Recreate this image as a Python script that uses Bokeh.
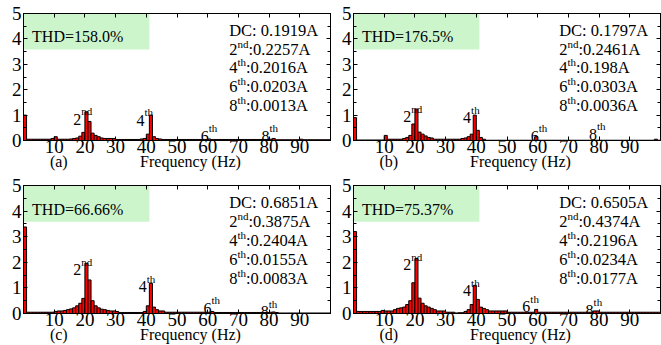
from bokeh.plotting import figure
from bokeh.models import FixedTicker, LinearAxis, Range1d, BoxAnnotation, ColumnDataSource
from bokeh.layouts import column, row
from bokeh.embed import file_html
from bokeh.resources import INLINE
from bokeh.core.properties import value

# ---------------- data ----------------
freqs = list(range(100))

amp_a = [1.00, 0.05, 0.05, 0.05, 0.05, 0.05, 0.05, 0.05, 0.05, 0.08,
         0.15, 0.05, 0.05, 0.05, 0.05, 0.06, 0.08, 0.10, 0.17, 0.32,
         1.13, 0.75, 0.29, 0.20, 0.15, 0.10, 0.08, 0.08, 0.08, 0.08,
         0.04, 0.04, 0.04, 0.04, 0.04, 0.04, 0.04, 0.04, 0.06, 0.08,
         0.25, 1.00, 0.15, 0.08, 0.06, 0.04, 0.04, 0.04, 0.04, 0.04,
         0.04, 0.04, 0.04, 0.04, 0.04, 0.04, 0.04, 0.04, 0.04, 0.04,
         0.06, 0.04, 0.04, 0.04, 0.04, 0.04, 0.04, 0.04, 0.04, 0.04,
         0.04, 0.04, 0.04, 0.04, 0.04, 0.04, 0.04, 0.04, 0.04, 0.04,
         0.05, 0.08, 0.03, 0.03, 0.03, 0.03, 0.03, 0.03, 0.03, 0.03,
         0.05, 0.03, 0.03, 0.03, 0.03, 0.03, 0.03, 0.03, 0.03, 0.03]

amp_b = [0.90, 0.02, 0.02, 0.02, 0.02, 0.02, 0.02, 0.02, 0.02, 0.02,
         0.20, 0.05, 0.05, 0.05, 0.05, 0.05, 0.08, 0.12, 0.20, 0.65,
         1.24, 0.33, 0.25, 0.18, 0.12, 0.10, 0.05, 0.05, 0.05, 0.05,
         0.05, 0.05, 0.05, 0.05, 0.05, 0.08, 0.10, 0.15, 0.25, 1.00,
         0.40, 0.12, 0.05, 0.01, 0.01, 0.01, 0.01, 0.01, 0.01, 0.01,
         0.01, 0.01, 0.01, 0.01, 0.01, 0.01, 0.01, 0.01, 0.01, 0.15,
         0.01, 0.01, 0.01, 0.01, 0.01, 0.01, 0.01, 0.01, 0.01, 0.01,
         0.01, 0.01, 0.01, 0.01, 0.01, 0.01, 0.01, 0.01, 0.01, 0.01,
         0.01, 0.01, 0.01, 0.01, 0.01, 0.01, 0.01, 0.01, 0.01, 0.01,
         0.01, 0.01, 0.01, 0.01, 0.01, 0.01, 0.01, 0.01, 0.05, 0.01]

amp_c = [3.38, 0.05, 0.05, 0.05, 0.05, 0.05, 0.05, 0.05, 0.05, 0.05,
         0.08, 0.10, 0.10, 0.12, 0.15, 0.18, 0.22, 0.30, 0.40, 0.59,
         1.96, 1.31, 0.50, 0.30, 0.22, 0.17, 0.15, 0.12, 0.10, 0.10,
         0.08, 0.04, 0.04, 0.04, 0.04, 0.04, 0.04, 0.04, 0.04, 0.08,
         0.30, 1.18, 0.25, 0.15, 0.10, 0.10, 0.05, 0.05, 0.05, 0.05,
         0.05, 0.05, 0.05, 0.05, 0.05, 0.05, 0.05, 0.05, 0.05, 0.05,
         0.05, 0.08, 0.04, 0.04, 0.04, 0.04, 0.04, 0.04, 0.04, 0.04,
         0.04, 0.04, 0.04, 0.04, 0.04, 0.04, 0.04, 0.04, 0.04, 0.04,
         0.05, 0.06, 0.04, 0.02, 0.02, 0.02, 0.02, 0.02, 0.02, 0.02,
         0.02, 0.02, 0.02, 0.02, 0.02, 0.02, 0.02, 0.02, 0.02, 0.02]

amp_d = [3.20, 0.08, 0.08, 0.08, 0.08, 0.08, 0.08, 0.08, 0.08, 0.12,
         0.10, 0.10, 0.10, 0.15, 0.20, 0.22, 0.25, 0.35, 0.50, 1.20,
         2.15, 0.60, 0.40, 0.30, 0.25, 0.20, 0.15, 0.10, 0.10, 0.10,
         0.05, 0.05, 0.05, 0.02, 0.03, 0.03, 0.08, 0.15, 0.35, 1.10,
         0.55, 0.25, 0.20, 0.15, 0.10, 0.10, 0.10, 0.10, 0.10, 0.10,
         0.05, 0.05, 0.05, 0.05, 0.05, 0.05, 0.05, 0.05, 0.05, 0.16,
         0.05, 0.05, 0.05, 0.05, 0.05, 0.05, 0.05, 0.05, 0.05, 0.05,
         0.05, 0.05, 0.05, 0.05, 0.05, 0.05, 0.05, 0.05, 0.10, 0.10,
         0.05, 0.05, 0.05, 0.05, 0.05, 0.05, 0.05, 0.05, 0.05, 0.05,
         0.05, 0.05, 0.05, 0.05, 0.05, 0.05, 0.05, 0.05, 0.05, 0.05]

panel_tags = ["(a)", "(b)", "(c)", "(d)"]
thd_values = ["158.0%", "176.5%", "66.66%", "75.37%"]
dc_values = ["0.1919A", "0.1797A", "0.6851A", "0.6505A"]
h2_values = ["0.2257A", "0.2461A", "0.3875A", "0.4374A"]
h4_values = ["0.2016A", "0.198A", "0.2404A", "0.2196A"]
h6_values = ["0.0203A", "0.0303A", "0.0155A", "0.0234A"]
h8_values = ["0.0013A", "0.0036A", "0.0083A", "0.0177A"]
harmonic_names = [("2", "nd"), ("4", "th"), ("6", "th"), ("8", "th")]
x_ticks = [10, 20, 30, 40, 50, 60, 70, 80, 90]
y_ticks = [0, 1, 2, 3, 4, 5]
y_minor = [0.5, 1.5, 2.5, 3.5, 4.5]
x_label = "Frequency (Hz)"

# ---------------- layout / style ----------------
FONT = "Liberation Serif"
LABEL_POS = [
    [(16.2, 0.83), (36.8, 0.80), (57.7, 0.17), (77.5, 0.17)],
    [(16.2, 0.93), (35.7, 0.90), (57.7, 0.17), (76.7, 0.24)],
    [(16.2, 1.70), (37.5, 1.04), (58.6, 0.20), (77.3, 0.06)],
    [(16.2, 1.90), (35.7, 0.89), (55.0, 0.26), (75.6, 0.13)],
]
SUP_W = {"nd": 11.0, "th": 8.6}
TAG_X = 11.5      # centre of "(a)" label, data units
XLAB_X = 54.4     # centre of "Frequency (Hz)" label, data units


def make_panel(i, amps, width, height, left_border, bottom_border):
    p = figure(width=width, height=height, x_range=Range1d(0, 100), y_range=Range1d(0, 5),
               output_backend="svg", toolbar_location=None,
               min_border_left=left_border, min_border_right=1, min_border_top=13,
               min_border_bottom=bottom_border,
               background_fill_color="white", border_fill_color="white")
    p.xgrid.visible = False
    p.ygrid.visible = False
    p.outline_line_color = "black"
    p.outline_line_width = 1

    src = ColumnDataSource(dict(x=[f + 0.5 for f in freqs], top=amps))
    p.vbar(x="x", top="top", bottom=0, width=1.0, source=src,
           fill_color="#ff0000", line_color="black", line_width=1)

    xa = p.xaxis[0]
    xa.ticker = FixedTicker(ticks=x_ticks)
    xa.major_label_text_font = FONT
    xa.major_label_text_font_size = "19px"
    xa.major_label_text_color = "black"
    xa.major_tick_in = 4
    xa.major_tick_out = 0
    xa.minor_tick_line_color = None
    xa.minor_tick_out = 0
    xa.major_label_standoff = -1
    xa.axis_line_color = "black"

    # second row under the axis: panel tag and axis title at their own x positions
    lab_ax = LinearAxis(ticker=FixedTicker(ticks=[TAG_X, XLAB_X]),
                        major_label_overrides={TAG_X: panel_tags[i], XLAB_X: x_label},
                        major_tick_line_color=None, minor_tick_line_color=None,
                        major_tick_in=0, major_tick_out=0, minor_tick_in=0, minor_tick_out=0,
                        axis_line_color=None, major_label_standoff=-3,
                        major_label_text_font=FONT, major_label_text_font_size="16px",
                        major_label_text_color="black")
    p.add_layout(lab_ax, "below")

    ya = p.yaxis[0]
    ya.ticker = FixedTicker(ticks=y_ticks, minor_ticks=y_minor)
    ya.major_label_text_font = FONT
    ya.major_label_text_font_size = "19px"
    ya.major_label_text_color = "black"
    ya.major_tick_in = 4
    ya.major_tick_out = 0
    ya.minor_tick_in = 3
    ya.minor_tick_out = 0
    ya.major_label_standoff = 2
    ya.axis_line_color = "black"

    top_ax = LinearAxis(ticker=FixedTicker(ticks=x_ticks), major_tick_in=4, major_tick_out=0,
                        minor_tick_line_color=None, minor_tick_out=0,
                        major_label_text_font_size="0px", major_label_text_color=None,
                        major_label_standoff=0, axis_line_color="black")
    p.add_layout(top_ax, "above")
    right_ax = LinearAxis(ticker=FixedTicker(ticks=y_ticks, minor_ticks=y_minor),
                          major_tick_in=4, major_tick_out=0, minor_tick_in=3, minor_tick_out=0,
                          major_label_text_font_size="0px", major_label_text_color=None,
                          major_label_standoff=0, axis_line_color="black")
    p.add_layout(right_ax, "right")

    # THD box
    p.add_layout(BoxAnnotation(left=0, right=41, bottom=3.58, top=5, fill_color="#ccf5cc",
                               fill_alpha=1.0, line_color=None, level="underlay"))
    p.text(x=[2.8], y=[4.08], text=["THD=" + thd_values[i]], text_font=value(FONT),
           text_font_size="16px", text_baseline="alphabetic", text_align="left", text_color="black")

    # harmonic labels over the bars
    pos = LABEL_POS[i]
    hx = [q[0] for q in pos]
    hy = [q[1] for q in pos]
    p.text(x=hx, y=hy, text=[h[0] for h in harmonic_names], text_font=value(FONT),
           text_font_size="16px", text_baseline="alphabetic", text_align="left", text_color="black")
    p.text(x=hx, y=hy, text=[h[1] for h in harmonic_names], text_font=value(FONT),
           text_font_size="11px", text_baseline="alphabetic", text_align="left", text_color="black",
           x_offset=8, y_offset=-8)

    # right-side annotation
    ax0 = 67.0
    ann_y = [4.34 - 0.74 * k for k in range(5)]
    p.text(x=[ax0], y=[ann_y[0]], text=["DC: " + dc_values[i]], text_font=value(FONT),
           text_font_size="16.5px", text_baseline="alphabetic", text_align="left", text_color="black")
    vals = [h2_values[i], h4_values[i], h6_values[i], h8_values[i]]
    for k, ((num, sup), v) in enumerate(zip(harmonic_names, vals)):
        yy = ann_y[k + 1]
        p.text(x=[ax0], y=[yy], text=[num], text_font=value(FONT), text_font_size="16.5px",
               text_baseline="alphabetic", text_align="left", text_color="black")
        p.text(x=[ax0], y=[yy], text=[sup], text_font=value(FONT), text_font_size="11px",
               text_baseline="alphabetic", text_align="left", text_color="black",
               x_offset=8.25, y_offset=-5.5)
        p.text(x=[ax0], y=[yy], text=[":" + v], text_font=value(FONT), text_font_size="16.5px",
               text_baseline="alphabetic", text_align="left", text_color="black",
               x_offset=8.25 + SUP_W[sup])
    return p


pa = make_panel(0, amp_a, 331, 172, 23, 31)
pb = make_panel(1, amp_b, 330, 172, 22, 31)
pc = make_panel(2, amp_c, 331, 173, 23, 32)
pd = make_panel(3, amp_d, 330, 173, 22, 32)

layout = column(row(pa, pb), row(pc, pd))
open("out.html", "w").write(file_html(layout, INLINE))
